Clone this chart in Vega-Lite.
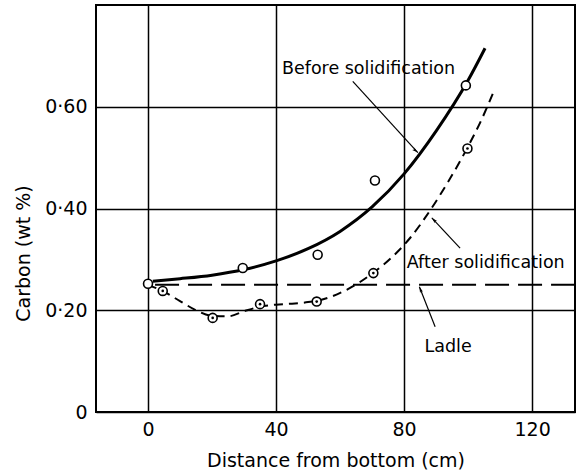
{
  "$schema": "https://vega.github.io/schema/vega-lite/v6.json",
  "width": 479,
  "height": 407,
  "autosize": {"type": "none"},
  "padding": {"left": 96, "top": 5, "right": 4, "bottom": 62},
  "background": "white",
  "config": {
    "font": "DejaVu Sans",
    "view": {"stroke": "black", "strokeWidth": 2},
    "axis": {"gridColor": "black", "gridWidth": 1.5, "gridOpacity": 1, "domain": false, "ticks": false, "labelColor": "black", "titleColor": "black", "labelFont": "DejaVu Sans", "titleFont": "DejaVu Sans", "titleFontWeight": "normal"}
  },
  "datasets": {
    "curves": [
      {"series": "Before", "x": 1.5, "y": 0.257},
      {"series": "Before", "x": 10, "y": 0.262},
      {"series": "Before", "x": 20, "y": 0.269},
      {"series": "Before", "x": 30, "y": 0.28},
      {"series": "Before", "x": 40, "y": 0.297},
      {"series": "Before", "x": 50, "y": 0.321},
      {"series": "Before", "x": 60, "y": 0.355},
      {"series": "Before", "x": 70, "y": 0.403},
      {"series": "Before", "x": 80, "y": 0.468},
      {"series": "Before", "x": 90, "y": 0.552},
      {"series": "Before", "x": 100, "y": 0.652},
      {"series": "Before", "x": 105.3, "y": 0.715},
      {"series": "After", "x": 0, "y": 0.25},
      {"series": "After", "x": 4.5, "y": 0.238},
      {"series": "After", "x": 10, "y": 0.218},
      {"series": "After", "x": 15, "y": 0.2},
      {"series": "After", "x": 20, "y": 0.189},
      {"series": "After", "x": 25, "y": 0.188},
      {"series": "After", "x": 30, "y": 0.198},
      {"series": "After", "x": 35, "y": 0.207},
      {"series": "After", "x": 40, "y": 0.211},
      {"series": "After", "x": 45, "y": 0.213},
      {"series": "After", "x": 50, "y": 0.216},
      {"series": "After", "x": 55, "y": 0.222},
      {"series": "After", "x": 62, "y": 0.24},
      {"series": "After", "x": 70, "y": 0.272},
      {"series": "After", "x": 76, "y": 0.303},
      {"series": "After", "x": 82, "y": 0.343},
      {"series": "After", "x": 88, "y": 0.395},
      {"series": "After", "x": 94, "y": 0.455},
      {"series": "After", "x": 100, "y": 0.522},
      {"series": "After", "x": 104, "y": 0.572},
      {"series": "After", "x": 108.4, "y": 0.636}
    ],
    "ladle": [
      {"x": 2.2, "y": 0.25},
      {"x": 133.4, "y": 0.25}
    ],
    "points": [
      {"kind": "before", "x": 0, "y": 0.252},
      {"kind": "before", "x": 29.6, "y": 0.283},
      {"kind": "before", "x": 53, "y": 0.309},
      {"kind": "before", "x": 70.9, "y": 0.455},
      {"kind": "before", "x": 99.3, "y": 0.642},
      {"kind": "after", "x": 4.6, "y": 0.238},
      {"kind": "after", "x": 20.2, "y": 0.185},
      {"kind": "after", "x": 35, "y": 0.212},
      {"kind": "after", "x": 52.7, "y": 0.217},
      {"kind": "after", "x": 70.4, "y": 0.273},
      {"kind": "after", "x": 99.8, "y": 0.518}
    ],
    "labels": [
      {"text": "Before solidification", "x": 68.9, "y": 0.674},
      {"text": "After solidification", "x": 105.5, "y": 0.292},
      {"text": "Ladle", "x": 93.75, "y": 0.128}
    ],
    "arrows": [
      {"name": "before", "x": 63.97, "y": 0.65, "x2": 84.3, "y2": 0.51},
      {"name": "after", "x": 97.5, "y": 0.322, "x2": 88.66, "y2": 0.3817},
      {"name": "ladle", "x": 89.7, "y": 0.1675, "x2": 84.78, "y2": 0.2463}
    ]
  },
  "layer": [
    {
      "data": {"name": "curves"},
      "transform": [{"filter": "datum.series == 'Before'"}],
      "mark": {"type": "line", "color": "black", "strokeWidth": 3, "interpolate": "monotone"},
      "encoding": {
        "x": {"field": "x", "type": "quantitative", "scale": {"domain": [-16.25, 133.4], "nice": false, "zero": false},
          "axis": {"values": [0, 40, 80, 120], "grid": true, "labelFontSize": 19, "labelPadding": 8, "title": "Distance from bottom (cm)", "titleFontSize": 19, "titleBaseline": "middle", "titleY": 48}},
        "y": {"field": "y", "type": "quantitative", "scale": {"domain": [0, 0.8], "nice": false},
          "axis": {"values": [0, 0.2, 0.4, 0.6], "grid": true, "labelFontSize": 19, "labelPadding": 9,
            "labelExpr": "datum.value == 0 ? '0' : replace(format(datum.value, '.2f'), '.', '·')",
            "title": "Carbon (wt %)", "titleFontSize": 19, "titleAngle": -90, "titleAlign": "center", "titleBaseline": "middle", "titleX": -73, "titleY": 248}}
      }
    },
    {
      "data": {"name": "curves"},
      "transform": [{"filter": "datum.series == 'After'"}],
      "mark": {"type": "line", "color": "black", "strokeWidth": 2, "strokeDash": [9, 6], "interpolate": "monotone"},
      "encoding": {
        "x": {"field": "x", "type": "quantitative"},
        "y": {"field": "y", "type": "quantitative"}
      }
    },
    {
      "data": {"name": "ladle"},
      "mark": {"type": "line", "color": "black", "strokeWidth": 2, "strokeDash": [24, 9]},
      "encoding": {
        "x": {"field": "x", "type": "quantitative"},
        "y": {"field": "y", "type": "quantitative"}
      }
    },
    {
      "data": {"name": "arrows"},
      "mark": {"type": "rule", "color": "black", "strokeWidth": 1.2},
      "encoding": {
        "x": {"field": "x", "type": "quantitative"},
        "y": {"field": "y", "type": "quantitative"},
        "x2": {"field": "x2"},
        "y2": {"field": "y2"}
      }
    },
    {
      "data": {"name": "arrows"},
      "transform": [{"filter": "datum.name == 'before'"}],
      "mark": {"type": "point", "shape": "M0,0 L-0.45,1.7 L0,1.3 L0.45,1.7 Z", "filled": true, "color": "black", "opacity": 1, "size": 50, "angle": 130},
      "encoding": {
        "x": {"field": "x2", "type": "quantitative"},
        "y": {"field": "y2", "type": "quantitative"}
      }
    },
    {
      "data": {"name": "arrows"},
      "transform": [{"filter": "datum.name == 'after'"}],
      "mark": {"type": "point", "shape": "M0,0 L-0.45,1.7 L0,1.3 L0.45,1.7 Z", "filled": true, "color": "black", "opacity": 1, "size": 50, "angle": 317},
      "encoding": {
        "x": {"field": "x2", "type": "quantitative"},
        "y": {"field": "y2", "type": "quantitative"}
      }
    },
    {
      "data": {"name": "arrows"},
      "transform": [{"filter": "datum.name == 'ladle'"}],
      "mark": {"type": "point", "shape": "M0,0 L-0.45,1.7 L0,1.3 L0.45,1.7 Z", "filled": true, "color": "black", "opacity": 1, "size": 50, "angle": 339},
      "encoding": {
        "x": {"field": "x2", "type": "quantitative"},
        "y": {"field": "y2", "type": "quantitative"}
      }
    },
    {
      "data": {"name": "points"},
      "mark": {"type": "point", "shape": "circle", "fill": "white", "filled": true, "stroke": "black", "strokeWidth": 1.6, "opacity": 1, "size": 80},
      "encoding": {
        "x": {"field": "x", "type": "quantitative"},
        "y": {"field": "y", "type": "quantitative"}
      }
    },
    {
      "data": {"name": "points"},
      "transform": [{"filter": "datum.kind == 'after'"}],
      "mark": {"type": "point", "shape": "circle", "filled": true, "color": "black", "opacity": 1, "size": 7},
      "encoding": {
        "x": {"field": "x", "type": "quantitative"},
        "y": {"field": "y", "type": "quantitative"}
      }
    },
    {
      "data": {"name": "labels"},
      "mark": {"type": "text", "fontSize": 17.5, "color": "black", "align": "center", "baseline": "middle", "font": "DejaVu Sans"},
      "encoding": {
        "x": {"field": "x", "type": "quantitative"},
        "y": {"field": "y", "type": "quantitative"},
        "text": {"field": "text"}
      }
    }
  ]
}
